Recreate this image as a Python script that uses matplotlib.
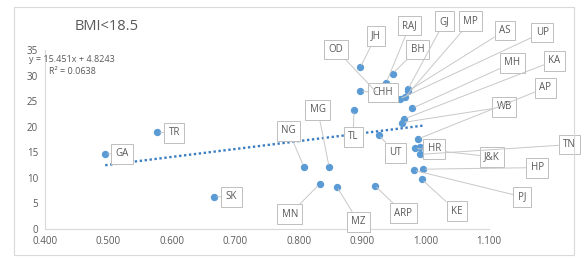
#!/usr/bin/env python3
"""Scatter of states, BMI<18.5, with linear trendline."""
import matplotlib
matplotlib.use("Agg")
import matplotlib.pyplot as plt
from matplotlib.patches import Rectangle

# data
states = ["GA", "TR", "SK", "NG", "MG", "MN", "MZ", "ARP", "TL", "UT",
          "JH", "CHH", "OD", "RAJ", "BH", "GJ", "MP", "AS", "UP", "MH",
          "KA", "WB", "AP", "J&K", "HR", "TN", "HP", "PJ", "KE"]
x_vals = [0.495, 0.577, 0.667, 0.808, 0.848, 0.833, 0.860, 0.920, 0.887, 0.926,
          0.897, 0.897, 0.925, 0.938, 0.948, 0.972, 0.968, 0.973, 0.959, 0.979,
          0.966, 0.963, 0.988, 0.983, 0.991, 0.992, 0.996, 0.981, 0.994]
y_vals = [14.7, 18.9, 6.3, 12.2, 12.1, 8.8, 8.3, 8.5, 23.2, 18.4,
          31.6, 26.9, 26.4, 28.6, 30.4, 27.3, 25.8, 27.0, 25.4, 23.6,
          21.5, 20.8, 17.6, 15.8, 16.1, 14.6, 11.7, 11.5, 9.7]
slope = 15.451
intercept = 4.8243
r2 = 0.0638

x_ticks = [0.4, 0.5, 0.6, 0.7, 0.8, 0.9, 1.0, 1.1]
y_ticks = [0, 5, 10, 15, 20, 25, 30, 35]

# where each data label sits (data coords)
label_xy = {
    "GA": (0.522, 14.7), "TR": (0.604, 18.8), "SK": (0.694, 6.3),
    "NG": (0.784, 19.2), "MG": (0.830, 23.3), "MN": (0.786, 2.9),
    "MZ": (0.894, 1.4), "ARP": (0.965, 3.1), "TL": (0.886, 18.0),
    "UT": (0.952, 14.9), "JH": (0.922, 37.8), "CHH": (0.933, 26.7),
    "OD": (0.859, 35.1), "RAJ": (0.975, 39.8), "BH": (0.987, 35.1),
    "GJ": (1.030, 40.6), "MP": (1.071, 40.6), "AS": (1.125, 38.8),
    "UP": (1.184, 38.4), "MH": (1.137, 32.5), "KA": (1.203, 32.9),
    "WB": (1.124, 23.9), "AP": (1.189, 27.6), "J&K": (1.105, 14.1),
    "HR": (1.014, 15.7), "TN": (1.227, 16.5), "HP": (1.176, 12.0),
    "PJ": (1.152, 6.3), "KE": (1.049, 3.5),
}

BLUE = "#5B9BD5"
TXT = "#595959"
LINE = "#C8C8C8"

plt.rcParams["font.family"] = ["Open Sans", "DejaVu Sans"]

fig = plt.figure(figsize=(5.86, 2.65), dpi=100)
fig.patches.append(Rectangle((14 / 586, 1 - 255 / 265), 560 / 586, 248 / 265,
                             transform=fig.transFigure, fill=False,
                             edgecolor="#D9D9D9", linewidth=0.8))
ax = fig.add_axes([45 / 586, 36 / 265, 444 / 586, 179 / 265])

ax.set_xlim(0.4, 1.1)
ax.set_ylim(0, 35)
ax.set_xticks(x_ticks, [f"{v:.3f}" for v in x_ticks])
ax.set_yticks(y_ticks, [str(v) for v in y_ticks])
ax.tick_params(length=0, labelsize=7, labelcolor=TXT, pad=5)
for side in ["top", "right"]:
    ax.spines[side].set_visible(False)
for side in ["left", "bottom"]:
    ax.spines[side].set_color("#D9D9D9")
    ax.spines[side].set_linewidth(0.8)

# trendline
x0, x1 = min(x_vals), max(x_vals)
ax.plot([x0, x1], [slope * x0 + intercept, slope * x1 + intercept],
        linestyle=(0, (1, 1.1)), color="#3A7DC0", linewidth=1.7, zorder=2)

# leader lines and labels
for name, x, y in zip(states, x_vals, y_vals):
    lx, ly = label_xy[name]
    ax.annotate(name, xy=(x, y), xytext=(lx, ly), fontsize=7, color=TXT,
                ha="center", va="center", annotation_clip=False, zorder=4,
                bbox=dict(boxstyle="square,pad=0.45", fc="white",
                          ec="#BFBFBF", lw=0.7),
                arrowprops=dict(arrowstyle="-", color=LINE, lw=0.7,
                                shrinkA=0, shrinkB=2))

ax.scatter(x_vals, y_vals, s=28, color=BLUE, zorder=3, linewidths=0)

fig.text(107 / 586, 1 - 27 / 265, "BMI<18.5", fontsize=10.5, color=TXT,
         ha="center", va="center")
fig.text(29 / 586, 1 - 60 / 265, f"y = {slope}x + {intercept}", fontsize=6.5,
         color=TXT, ha="left", va="center")
fig.text(49 / 586, 1 - 72 / 265, f"R² = {r2}", fontsize=6.5,
         color=TXT, ha="left", va="center")

fig.savefig("out.png", dpi=100)
